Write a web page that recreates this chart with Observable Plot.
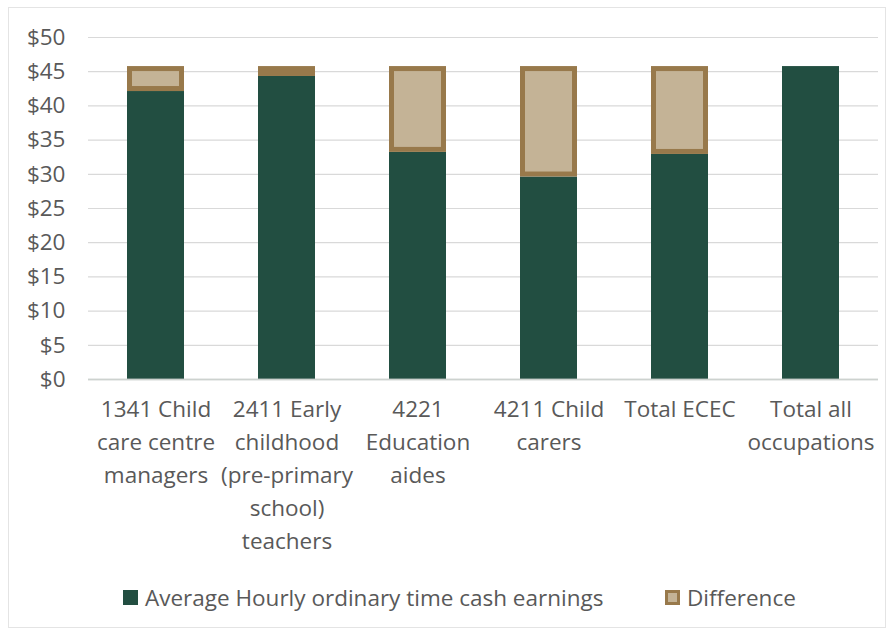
<!DOCTYPE html>
<html>
<head>
<meta charset="utf-8">
<script src="https://cdn.jsdelivr.net/npm/d3@7"></script>
<script src="https://cdn.jsdelivr.net/npm/@observablehq/plot@0.6"></script>
<style>
  html, body { margin: 0; padding: 0; background: #fff; }
  #wrap { position: relative; width: 894px; height: 635px; font-family: "Open Sans", sans-serif; }
  #frame { position: absolute; left: 8px; top: 7px; width: 878px; height: 621px; border: 1px solid #e4e4e4; box-sizing: border-box; }
  #chart { position: absolute; left: 0; top: 0; }
  .leg { position: absolute; top: 582px; display: flex; align-items: center; font-size: 22.5px; color: #595959; white-space: nowrap; }
  .sw { width: 15px; height: 15px; box-sizing: border-box; margin-right: 7px; }
</style>
</head>
<body>
<div id="wrap">
  <div id="frame"></div>
  <div id="chart"></div>
  <div class="leg" style="left:123px"><div class="sw" style="background:#224e41"></div>Average Hourly ordinary time cash earnings</div>
  <div class="leg" style="left:665px"><div class="sw" style="background:#c4b396;border:3px solid #98794b"></div>Difference</div>
</div>
<script>
const categories = ["1341", "2411", "4221", "4211", "ECEC", "All"];
const labels = [
  "1341 Child\ncare centre\nmanagers",
  "2411 Early\nchildhood\n(pre-primary\nschool)\nteachers",
  "4221\nEducation\naides",
  "4211 Child\ncarers",
  "Total ECEC",
  "Total all\noccupations"
];
const earnings = [42.1, 44.3, 33.2, 29.6, 32.9, 45.75];
const difference = [3.65, 1.45, 12.55, 16.15, 12.85, 0];
const yTicks = [0, 5, 10, 15, 20, 25, 30, 35, 40, 45, 50];

const rows = categories.map((c, i) => ({cat: c, earn: earnings[i], diff: difference[i], top: earnings[i] + difference[i]}));
const diffRows = rows.filter(d => d.diff > 0);
const labelOf = new Map(categories.map((c, i) => [c, labels[i]]));

const chart = Plot.plot({
  width: 894,
  height: 570,
  marginTop: 37,
  marginBottom: 191,
  marginLeft: 88,
  marginRight: 16,
  style: {fontFamily: "Open Sans, sans-serif", fontSize: "22.5px", color: "#595959", background: "transparent"},
  x: {domain: categories, paddingInner: 0.567, paddingOuter: 0.2835},
  y: {domain: [0, 50]},
  marks: [
    Plot.gridY(yTicks, {stroke: "#d9d9d9", strokeOpacity: 1, strokeWidth: 1.2}),
    Plot.barY(rows, {x: "cat", y1: 0, y2: "earn", fill: "#224e41"}),
    Plot.barY(diffRows, {x: "cat", y1: "earn", y2: "top", fill: "#c4b396", stroke: "#98794b", strokeWidth: 5, inset: 2.5}),
    Plot.ruleY([0], {stroke: "#c9cfcc", strokeWidth: 2, strokeOpacity: 0.8}),
    Plot.axisY(yTicks, {tickSize: 0, tickPadding: 23, tickFormat: d => "$" + d, fill: "#595959", fontSize: 22.5, label: null}),
    Plot.axisX({tickSize: 0, tickPadding: 14, tickFormat: d => labelOf.get(d), fill: "#595959", fontSize: 22.5, lineHeight: 1.47, label: null})
  ]
});
document.getElementById("chart").appendChild(chart);
</script>
</body>
</html>
